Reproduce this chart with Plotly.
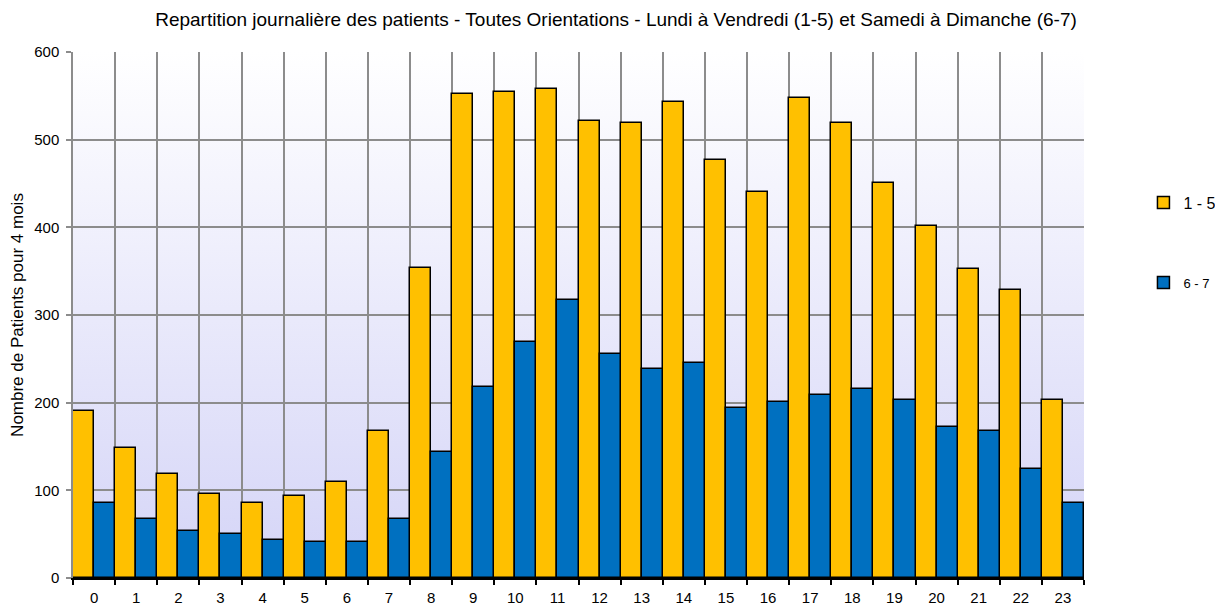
import base64
import plotly.graph_objects as go

hours = [str(h) for h in range(24)]
weekday_1_5 = [190, 148, 119, 96, 85, 93, 109, 168, 354, 552, 554, 558, 521, 519, 543, 477, 440, 547, 519, 451, 402, 352, 328, 203]
weekend_6_7 = [85, 67, 54, 50, 43, 41, 41, 67, 144, 218, 269, 317, 256, 238, 245, 194, 201, 209, 216, 203, 172, 168, 124, 85]
series_names = ["1 - 5", "6 - 7"]
y_ticks = [0, 100, 200, 300, 400, 500, 600]

title_text = "Repartition journalière des patients - Toutes Orientations - Lundi à Vendredi (1-5) et Samedi à Dimanche (6-7)"
y_title = "Nombre de Patients pour 4 mois"

FONT = "Liberation Sans, Arial, sans-serif"

svg = ('<svg xmlns="http://www.w3.org/2000/svg" width="100" height="100" preserveAspectRatio="none">'
       '<defs><linearGradient id="g" x1="0" y1="0" x2="0" y2="1">'
       '<stop offset="0" stop-color="#ffffff"/><stop offset="1" stop-color="#d4d4f7"/>'
       '</linearGradient></defs><rect width="100" height="100" fill="url(#g)"/></svg>')
svg_uri = "data:image/svg+xml;base64," + base64.b64encode(svg.encode()).decode()

fig = go.Figure()
fig.add_trace(go.Bar(x=hours, y=weekday_1_5, name=series_names[0],
                     marker=dict(color="#FFC000", line=dict(color="black", width=1.5)),
                     legend="legend"))
fig.add_trace(go.Bar(x=hours, y=weekend_6_7, name=series_names[1],
                     marker=dict(color="#0070C0", line=dict(color="black", width=1.5)),
                     legend="legend2"))

# page body has an 8px margin, so the figure is sized/offset to compensate
W, H = 1215, 597
L, R, T, B = 65, 139, 44, 27
fig.update_layout(
    width=W, height=H,
    margin=dict(l=L, r=R, t=T, b=B, autoexpand=False),
    showlegend=True,
    paper_bgcolor="white",
    plot_bgcolor="rgba(0,0,0,0)",
    barmode="group", bargap=0, bargroupgap=0,
    font=dict(family=FONT, size=15, color="black"),
    title=dict(text=title_text, x=(616 - 8) / W, xref="container", xanchor="center",
               y=1 - 11 / H, yref="container", yanchor="middle",
               font=dict(family=FONT, size=19, color="black")),
    images=[dict(source=svg_uri, xref="paper", yref="paper", x=0, y=1,
                 sizex=1, sizey=1, xanchor="left", yanchor="top",
                 sizing="stretch", layer="below")],
    legend=dict(x=1.0588, y=0.7136, xanchor="left", yanchor="middle",
                font=dict(family=FONT, size=16, color="black"),
                bgcolor="rgba(0,0,0,0)"),
    legend2=dict(x=1.0588, y=0.5616, xanchor="left", yanchor="middle",
                 font=dict(family=FONT, size=13, color="black"),
                 bgcolor="rgba(0,0,0,0)"),
    xaxis=dict(type="category", tickson="boundaries", ticks="outside", ticklen=5,
               tickcolor="black", tickwidth=1.5, showline=True, linecolor="black", linewidth=2,
               showgrid=True, gridcolor="#8c8c8c", gridwidth=1.5, automargin=False,
               ticklabelstandoff=5,
               tickfont=dict(family=FONT, size=15, color="black")),
    yaxis=dict(range=[0, 600], tickvals=y_ticks, ticks="outside", ticklen=5,
               tickcolor="#8c8c8c", tickwidth=1.5, showline=True, linecolor="#8c8c8c", linewidth=1.5,
               showgrid=True, gridcolor="#8c8c8c", gridwidth=1.5, zeroline=False,
               ticklabelstandoff=4, automargin=False,
               tickfont=dict(family=FONT, size=15, color="black"),
               title=dict(text=y_title, standoff=6,
                          font=dict(family=FONT, size=17, color="black"))),
)

fig.write_html("out.html")
